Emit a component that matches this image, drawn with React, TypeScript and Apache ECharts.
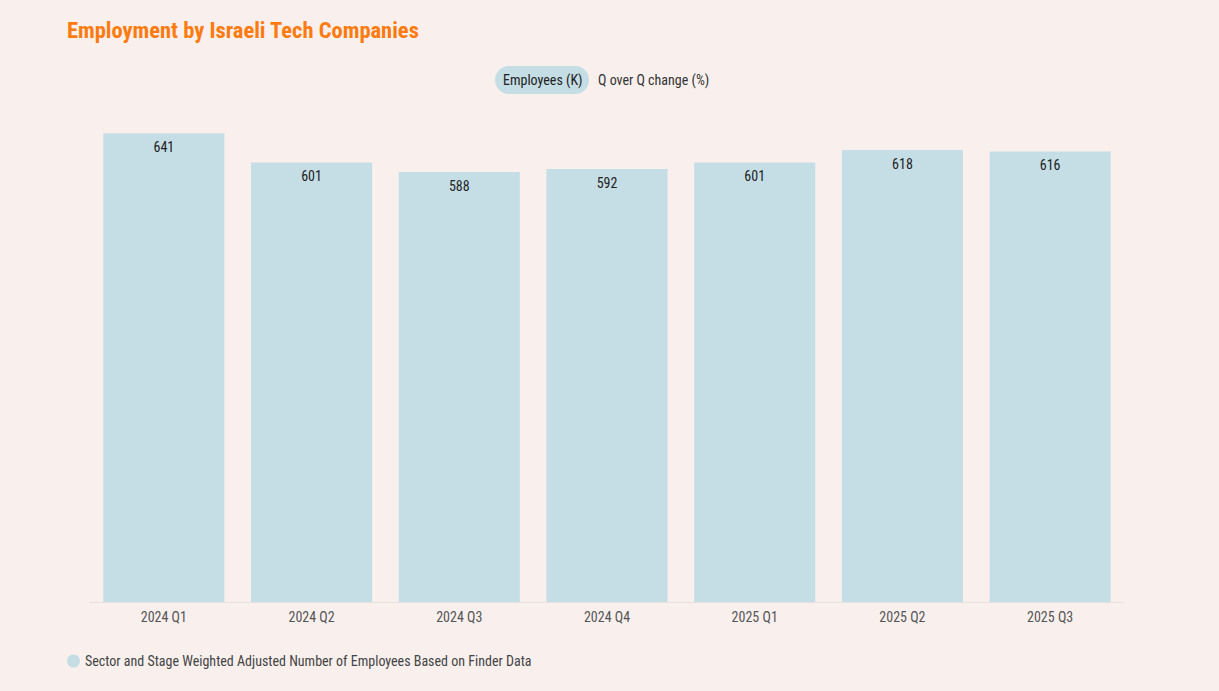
import React, { useEffect, useRef } from "react";
import * as echarts from "echarts";

const categories = ["2024 Q1", "2024 Q2", "2024 Q3", "2024 Q4", "2025 Q1", "2025 Q2", "2025 Q3"];
const employees = [641, 601, 588, 592, 601, 618, 616];
const seriesName = "Sector and Stage Weighted Adjusted Number of Employees Based on Finder Data";
const titleText = "Employment by Israeli Tech Companies";
const tabLabels = ["Employees (K)", "Q over Q change (%)"];

const FONT = "'Roboto Condensed', 'Liberation Sans Narrow', 'DejaVu Sans Condensed', Roboto, sans-serif";

export default function App() {
  const ref = useRef<HTMLDivElement>(null);
  useEffect(() => {
    document.body.style.margin = "0";
    document.body.style.background = "#f9f0ee";
    if (!ref.current) return;
    const chart = echarts.init(ref.current, undefined, { renderer: "svg" });
    chart.setOption({
      animation: false,
      backgroundColor: "#f9f0ee",
      textStyle: { fontFamily: FONT },
      title: {
        text: titleText,
        left: 62,
        top: 13,
        textStyle: { color: "#ff7b10", fontSize: 22.5, fontWeight: "bold", fontFamily: FONT },
      },
      legend: {
        top: 649,
        left: 62,
        icon: "circle",
        itemWidth: 13,
        itemHeight: 13,
        itemGap: 5,
        textStyle: { color: "#444", fontSize: 14, fontFamily: FONT },
        data: [seriesName],
      },
      graphic: [
        {
          type: "rect",
          left: 495,
          top: 66,
          shape: { width: 94, height: 28, r: 14 },
          style: { fill: "#c5dee6" },
        },
        {
          type: "text",
          left: 503,
          top: 73,
          style: { text: tabLabels[0], fill: "#222", fontSize: 14, fontFamily: FONT },
        },
        {
          type: "text",
          left: 598,
          top: 73,
          style: { text: tabLabels[1], fill: "#333", fontSize: 14, fontFamily: FONT },
        },
      ],
      grid: { left: 90, right: 95, top: 90, bottom: 89, containLabel: false },
      xAxis: {
        type: "category",
        data: categories,
        axisLine: { lineStyle: { color: "#e6e0df" } },
        axisTick: { alignWithLabel: true, lineStyle: { color: "#ece6e5" } },
        axisLabel: { color: "#555", fontSize: 14, margin: 8, fontFamily: FONT },
      },
      yAxis: {
        type: "value",
        min: 0,
        max: 700,
        show: false,
        splitLine: { show: false },
      },
      series: [
        {
          name: seriesName,
          type: "bar",
          data: employees,
          barWidth: "82%",
          itemStyle: { color: "#c5dee6" },
          label: {
            show: true,
            position: "insideTop",
            distance: 7,
            color: "#222",
            fontSize: 14,
            fontFamily: FONT,
          },
        },
      ],
    });
    return () => chart.dispose();
  }, []);
  return <div ref={ref} style={{ width: 1219, height: 691 }} />;
}
